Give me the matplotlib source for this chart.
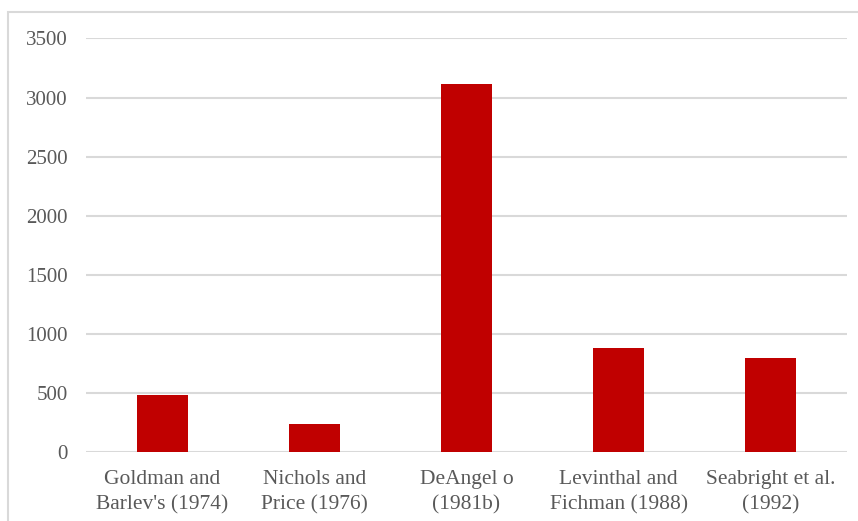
import matplotlib.pyplot as plt
from matplotlib.patches import Rectangle

# Data
categories = ["Goldman and\nBarlev's (1974)", "Nichols and\nPrice (1976)", "DeAngel o\n(1981b)",
              "Levinthal and\nFichman (1988)", "Seabright et al.\n(1992)"]
values = [482, 237, 3115, 878, 793]
yticks = [0, 500, 1000, 1500, 2000, 2500, 3000, 3500]

W, H = 858, 521
fig = plt.figure(figsize=(W / 100, H / 100), dpi=100)
plt.rcParams['font.family'] = ['Liberation Serif', 'DejaVu Serif']

# Light gray chart frame (only top and left visible in the reference)
fig.patches.append(Rectangle((8 / W, -0.1), 1.1, (H - 12) / H + 0.1, transform=fig.transFigure,
                             fill=False, edgecolor='#D9D9D9', linewidth=1.5))

ax = fig.add_axes([86 / W, 1 - 452 / H, (847 - 86) / W, (452 - 38.5) / H])
x = list(range(len(categories)))
ax.bar(x, values, width=0.335, color='#C00000', zorder=3)

ax.set_xlim(-0.5, len(categories) - 0.5)
ax.set_ylim(0, 3500)
ax.set_yticks(yticks)
ax.set_xticks(x)
ax.set_xticklabels(categories)
ax.grid(axis='y', color='#D9D9D9', linewidth=1.5, zorder=0)
ax.set_axisbelow(True)
for s in ax.spines.values():
    s.set_visible(False)
ax.tick_params(axis='both', length=0, colors='#595959', labelsize=15)
ax.tick_params(axis='y', pad=13)
ax.tick_params(axis='x', pad=13, labelsize=15.5)
for lab in ax.get_xticklabels():
    lab.set_linespacing(1.42)

fig.savefig('out.png', dpi=100)
